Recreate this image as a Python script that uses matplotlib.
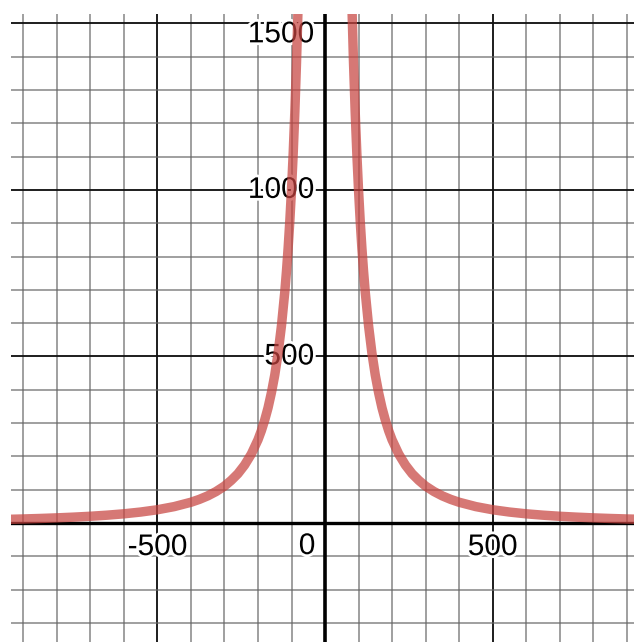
import matplotlib
matplotlib.use('Agg')
import matplotlib.pyplot as plt
import matplotlib.patheffects as pe

# curve, left and right branch
x_left = [-940, -900, -850, -800, -750, -700, -650, -600, -550, -500, -450, -400,
          -375, -350, -325, -300, -280, -260, -240, -220, -200, -190, -180, -170,
          -160, -150, -140, -130, -120, -115, -110, -105, -100, -95, -90, -85, -80, -75]
y_left = [11.3, 12.3, 13.8, 15.6, 17.8, 20.4, 23.7, 27.8, 33.1, 40, 49.4, 62.5,
          71.1, 81.6, 94.7, 111, 128, 148, 174, 207, 250, 277, 309, 346,
          391, 444, 510, 592, 694, 756, 826, 907, 1000, 1108, 1235, 1384, 1563, 1778]
x_right = [75, 80, 85, 90, 95, 100, 105, 110, 115, 120, 130, 140, 150, 160, 170,
           180, 190, 200, 220, 240, 260, 280, 300, 325, 350, 375, 400, 450, 500,
           550, 600, 650, 700, 750, 800, 850, 900, 940]
y_right = [1778, 1563, 1384, 1235, 1108, 1000, 907, 826, 756, 694, 592, 510, 444, 391, 346,
           309, 277, 250, 207, 174, 148, 128, 111, 94.7, 81.6, 71.1, 62.5, 49.4, 40,
           33.1, 27.8, 23.7, 20.4, 17.8, 15.6, 13.8, 12.3, 11.3]

x_ticks = [-500, 500]
y_ticks = [500, 1000, 1500]
xlim = (-937, 922)
ylim = (-357, 1528)

fig = plt.figure(figsize=(6.34, 6.42), dpi=100)
ax = fig.add_axes([11/634, 0, 623/634, 628/642])
ax.set_xlim(xlim)
ax.set_ylim(ylim)
ax.axis('off')

#网格
for v in range(-900, 1000, 100):
    if v == 0:
        continue
    major = v % 500 == 0
    ax.axvline(v, color='#111111' if major else '#666666', lw=1.4 if major else 1.1,
               alpha=0.95 if major else 0.8, zorder=1)
for v in range(-300, 1600, 100):
    if v == 0:
        continue
    major = v % 500 == 0
    ax.axhline(v, color='#111111' if major else '#666666', lw=1.4 if major else 1.1,
               alpha=0.95 if major else 0.8, zorder=1)
ax.axvline(0, color='black', lw=2.6, zorder=2)
ax.axhline(0, color='black', lw=2.4, zorder=2)

#刻度文字
halo = [pe.withStroke(linewidth=4, foreground='white')]
tkw = dict(fontsize=21.5, family='Liberation Sans', textcoords='offset pixels',
           path_effects=halo, zorder=3)
for t in x_ticks:
    ax.annotate(str(t), (t, 0), xytext=(0, -24), ha='center', va='center', **tkw)
ax.annotate('0', (0, 0), xytext=(-18, -23), ha='center', va='center', **tkw)
for t in y_ticks:
    dy = -11 if t == 1500 else 0
    ax.annotate(str(t), (0, t), xytext=(-11, dy), ha='right', va='center', **tkw)

ax.plot(x_left, y_left, color='#c74440', alpha=0.72, lw=6.8, solid_capstyle='round', zorder=4)
ax.plot(x_right, y_right, color='#c74440', alpha=0.72, lw=6.8, solid_capstyle='round', zorder=4)

fig.savefig('out.png', dpi=100)
